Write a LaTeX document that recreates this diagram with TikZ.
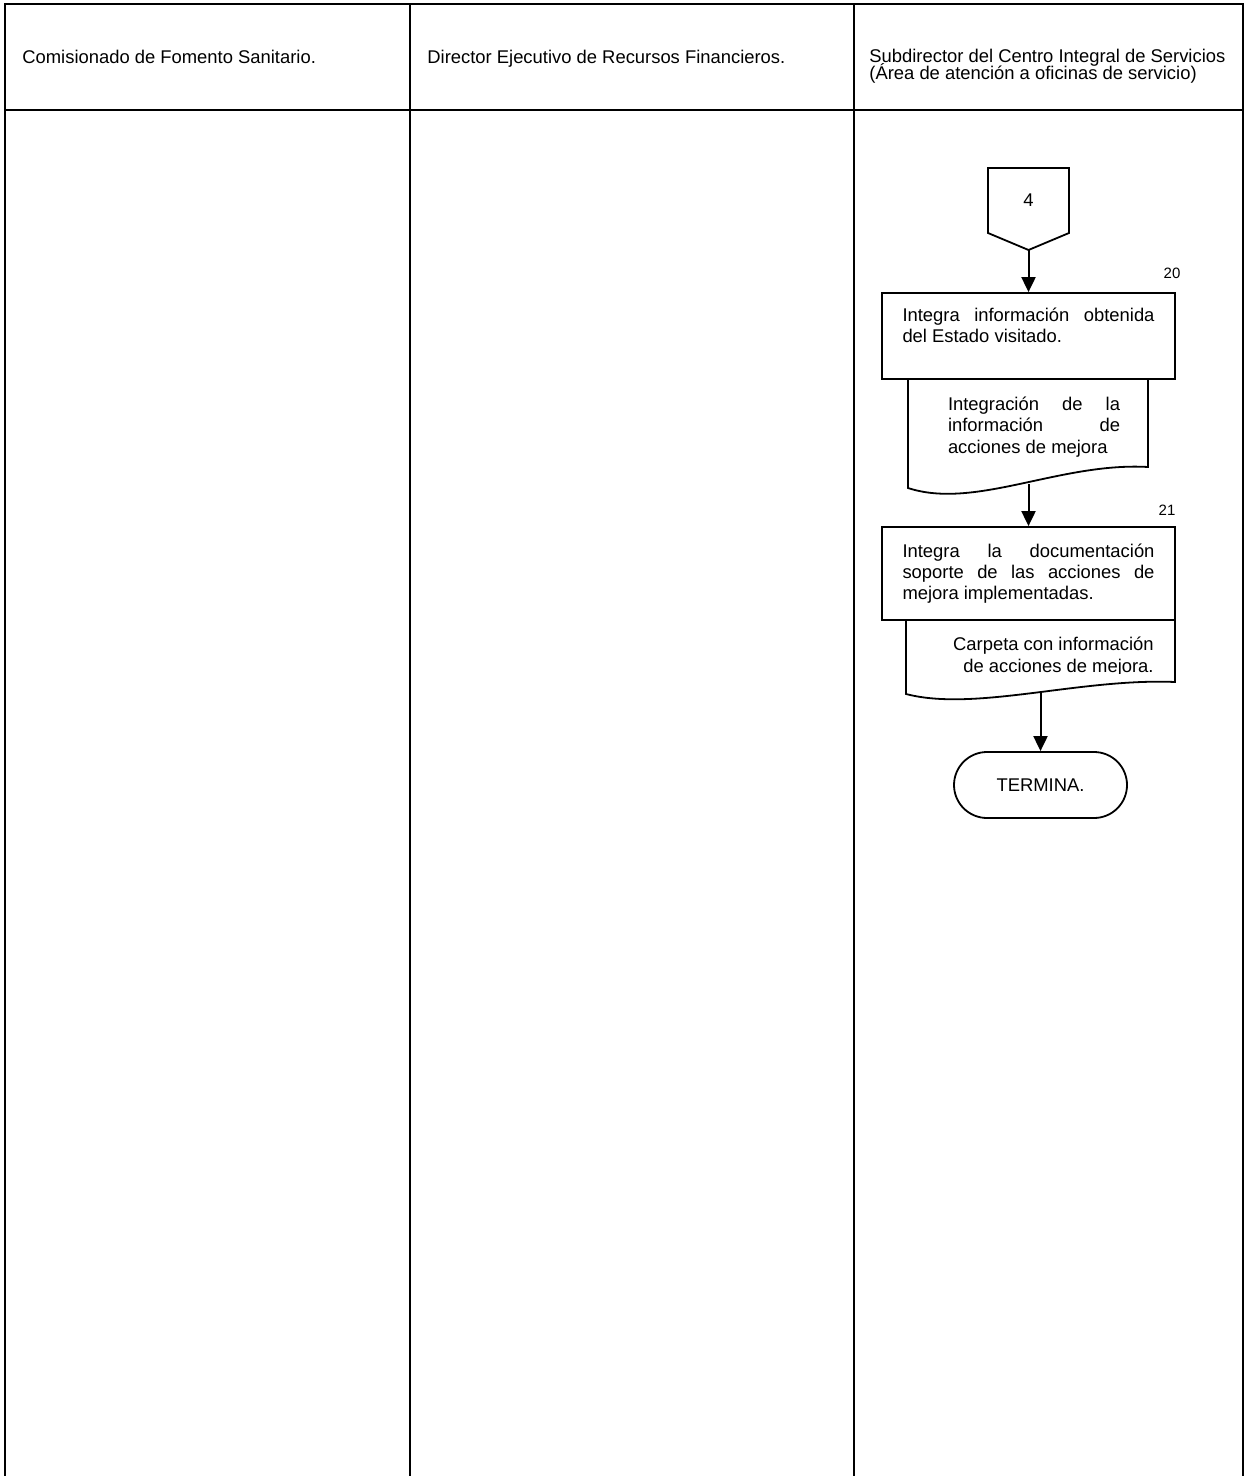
\documentclass[tikz,border=0pt]{standalone}
\usepackage{fontspec}
\setmainfont{Liberation Sans}
\usetikzlibrary{arrows.meta,positioning}
\newcommand{\lanefont}{\fontsize{9.2}{10.6}\selectfont}
\newcommand{\headfont}{\fontsize{9.2}{8.8}\selectfont\lineskiplimit=-20pt\relax}
\tikzset{
  lane/.style={draw=black, line width=1pt},
  headline/.style={draw=black, line width=1.4pt},
  lanehead/.style={anchor=base west, font=\lanefont, align=left, inner sep=0pt},
  procbox/.style={draw, line width=0.9pt, text width=126pt, inner xsep=10.25pt, align=justify, font=\lanefont},
  docline/.style={draw, line width=0.9pt},
  doctext/.style={font=\lanefont, inner sep=0pt},
  termbox/.style={draw, line width=0.9pt, rounded corners=16.5pt, minimum width=86.5pt, minimum height=33pt, font=\lanefont},
  flow/.style={-{Triangle[length=7.5pt,width=7pt]}, line width=1pt},
  stepnum/.style={font=\fontsize{7.5}{9}\selectfont}
}

\begin{document}
\begin{tikzpicture}[x=0.5pt, y=-0.5pt]
  \useasboundingbox (0,0) rectangle (1246,1476);
  % swimlanes
  \draw[lane] (5,1476) -- (5,4) -- (1243,4) -- (1243,1476);
  \draw[lane] (410,4) -- (410,1476);
  \draw[lane] (854,4) -- (854,1476);
  \draw[headline] (5,110) -- (1243,110);
  \node[lanehead] (h1) at (22,64) {Comisionado de Fomento Sanitario.};
  \node[lanehead] (h2) at (427,64) {Director Ejecutivo de Recursos Financieros.};
  \node[lanehead, font=\headfont] (h3) at (869,80)
    {Subdirector del Centro Integral de Servicios\\(Área de atención a oficinas de servicio)};

  % off-page connector
  \draw[docline] (988,168) -- (1069,168) -- (1069,233) -- (1028.5,250) -- (988,233) -- cycle;
  \node[font=\lanefont] (off4) at (1028.5,200) {4};
  \coordinate (off4tip) at (1028.5,250);

  % step 20
  \node[procbox, minimum height=43pt] (p20) at (1028.5,336)
    {Integra información obtenida del Estado visitado.\\\mbox{}};
  \node[stepnum] (n20) at (1172,273) {20};
  \draw[docline] (908,379) -- (908,488)
    .. controls (975,510) and (1060,462) .. (1148,467) -- (1148,379);
  \node[doctext, text width=86pt, align=justify] (d1) at (1034,427)
    {Integración de la información de acciones de mejora};
  \coordinate (d1bot) at (1028.5,484);

  % step 21
  \node[procbox, minimum height=46.5pt] (p21) at (1028.5,573.5)
    {Integra la documentación soporte de las acciones de mejora implementadas.};
  \node[stepnum] (n21) at (1167,510) {21};
  \draw[docline] (906,620) -- (906,694)
    .. controls (975,712) and (1080,678) .. (1175,682) -- (1175,620);
  \begin{scope}
    \clip (906,621) rectangle (1175,673);
    \node[doctext, anchor=north east, align=right] (d2) at (1154,637)
      {Carpeta con información\\de acciones de mejora.};
  \end{scope}
  \coordinate (d2bot) at (1040.5,692);

  \node[termbox] (fin) at (1040.5,785) {TERMINA.};

  \draw[flow] (off4tip) -- (p20.north);
  \draw[flow] (d1bot) -- (p21.north);
  \draw[flow] (d2bot) -- (fin.north);
\end{tikzpicture}
\end{document}
